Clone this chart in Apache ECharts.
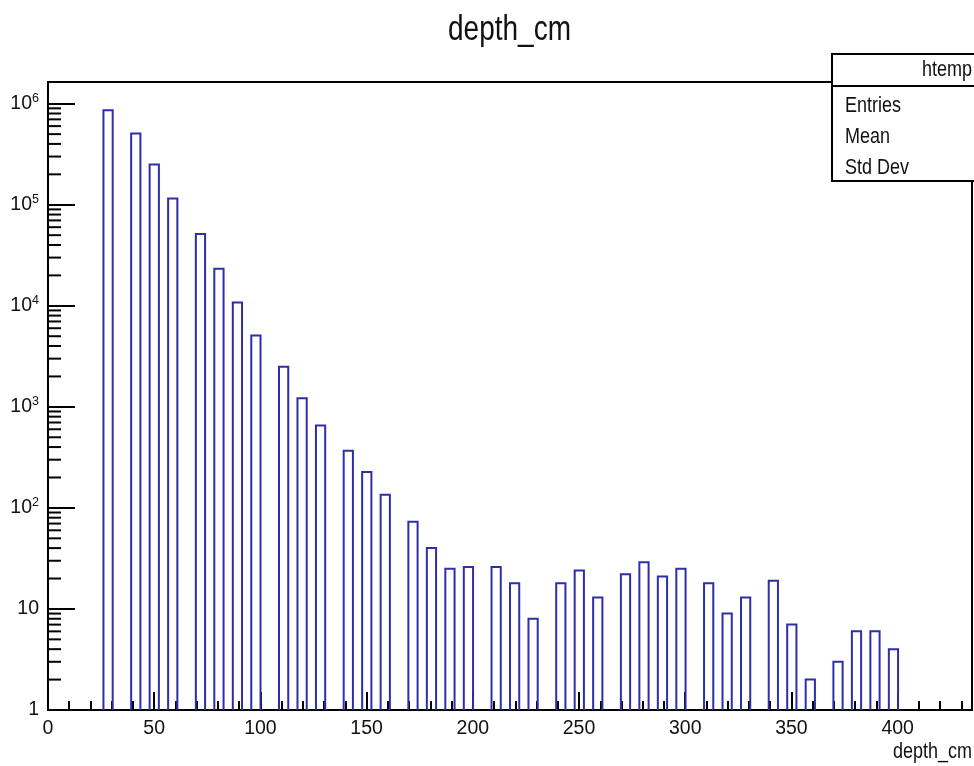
<!DOCTYPE html>
<html><head><meta charset="utf-8">
<script src="https://cdn.jsdelivr.net/npm/echarts@6/dist/echarts.min.js"></script>
<style>html,body{margin:0;padding:0;background:#fff}#c{width:974px;height:766px}</style>
</head><body><div id="c"></div>
<script>
// ---- data ----
const titleText = 'depth_cm';
const xAxisTitle = 'depth_cm';
const histName = 'htemp';
const statLabels = ['Entries', 'Mean', 'Std Dev'];
const binWidth = 4.35;
const xRange = [0, 435];
const yRange = [1, 1.64e6];
const binLow = [26.1, 39.15, 47.85, 56.55, 69.6, 78.3, 87, 95.7, 108.75, 117.45, 126.15,
  139.2, 147.9, 156.6, 169.65, 178.35, 187.05, 195.75, 208.8, 217.5, 226.2, 239.25,
  247.95, 256.65, 269.7, 278.4, 287.1, 295.8, 308.85, 317.55, 326.25, 339.3, 348,
  356.7, 369.75, 378.45, 387.15, 395.85];
const counts = [860000, 506000, 250000, 115000, 51400, 23200, 10800, 5080, 2500, 1220, 655,
  367, 226, 135, 73, 40, 25, 26, 26, 18, 8, 18,
  24, 13, 22, 29, 21, 25, 18, 9, 13, 19, 7,
  2, 3, 6, 6, 4];

// ---- rendering ----
const FONT = "'Liberation Sans', Arial, sans-serif";
const BAR = '#2e2eaa';
const INK = '#111';
const SX = 0.8;

const yMinor = [];
for (let d = 0; d <= 6; d++) {
  for (let k = 2; k <= 9; k++) {
    const v = k * Math.pow(10, d);
    if (v < yRange[1]) yMinor.push([xRange[0], v]);
  }
}

const chart = echarts.init(document.getElementById('c'), null, { renderer: 'canvas' });
const barData = binLow.map((x, i) => [x, counts[i]]);

function txt(text, x, y, size, align, z) {
  return { type: 'text', z: z || 101, x: x, y: y, scaleX: SX, scaleY: 1,
    style: { text: text, fontFamily: FONT, fontSize: size, fill: INK, align: align, verticalAlign: 'middle' } };
}

const option = {
  animation: false,
  backgroundColor: '#fff',
  grid: { left: 48, top: 82, right: 2, bottom: 56, show: true, borderColor: '#000', borderWidth: 2, backgroundColor: 'transparent' },
  xAxis: {
    type: 'value', min: xRange[0], max: xRange[1], interval: 50,
    axisLine: { show: true, lineStyle: { color: '#000', width: 2 } },
    axisTick: { show: true, inside: true, length: 18, lineStyle: { color: '#000', width: 2 } },
    minorTick: { show: true, splitNumber: 5, length: 9, lineStyle: { color: '#000', width: 2 } },
    splitLine: { show: false },
    axisLabel: {
      margin: 9, fontFamily: FONT, fontSize: 19.5, color: INK, showMaxLabel: false,
      formatter: v => (Math.abs(v % 50) < 1e-9 ? String(v) : '')
    }
  },
  yAxis: {
    type: 'log', logBase: 10, min: yRange[0], max: yRange[1], splitNumber: 6,
    axisLine: { show: true, lineStyle: { color: '#000', width: 2 } },
    axisTick: { show: true, inside: true, length: 27, lineStyle: { color: '#000', width: 2 } },
    splitLine: { show: false },
    axisLabel: {
      margin: 9, fontFamily: FONT, fontSize: 19.5, color: INK,
      formatter: v => {
        const l = Math.log10(v);
        const k = Math.round(l);
        if (Math.abs(l - k) > 1e-6) return '';
        if (k === 0) return '{b|1}';
        if (k === 1) return '{b|10}';
        return '{b|10}{s|' + k + '}';
      },
      rich: {
        b: { fontFamily: FONT, fontSize: 19.5, color: INK },
        s: { fontFamily: FONT, fontSize: 12.5, color: INK, padding: [0, 0, 10, 0] }
      }
    }
  },
  series: [
    {
      type: 'custom', name: histName, data: barData, clip: false, z: 3,
      renderItem: (params, api) => {
        const x0 = api.value(0), c = api.value(1);
        const pTop = api.coord([x0, c]);
        const pEnd = api.coord([x0 + binWidth, yRange[0]]);
        return {
          type: 'polyline',
          shape: { points: [[pTop[0], pEnd[1]], [pTop[0], pTop[1]], [pEnd[0], pTop[1]], [pEnd[0], pEnd[1]]] },
          style: { stroke: BAR, fill: 'none', lineWidth: 2 }
        };
      }
    },
    {
      type: 'custom', data: yMinor, z: 4, silent: true,
      renderItem: (params, api) => {
        const p = api.coord([api.value(0), api.value(1)]);
        return { type: 'line', shape: { x1: p[0], y1: p[1], x2: p[0] + 13, y2: p[1] }, style: { stroke: '#000', lineWidth: 2 } };
      }
    }
  ],
  graphic: [
    txt(titleText, 509.5, 30, 35, 'center', 100),
    txt(xAxisTitle, 972, 752, 22.5, 'right', 100),
    { type: 'rect', z: 100, shape: { x: 832, y: 54, width: 200, height: 127 }, style: { fill: '#fff', stroke: '#000', lineWidth: 2 } },
    { type: 'line', z: 101, shape: { x1: 832, y1: 86, x2: 974, y2: 86 }, style: { stroke: '#000', lineWidth: 2 } },
    txt(histName, 972, 70, 22.5, 'right'),
    txt(statLabels[0], 845, 106, 22.5, 'left'),
    txt(statLabels[1], 845, 137, 22.5, 'left'),
    txt(statLabels[2], 845, 168, 22.5, 'left')
  ]
};
chart.setOption(option);
</script>
</body></html>
